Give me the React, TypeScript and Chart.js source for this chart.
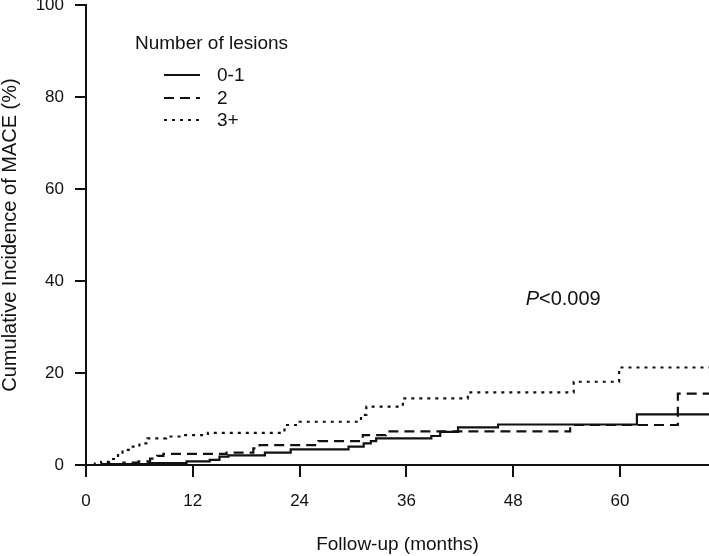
import React, { useEffect, useRef } from "react";
import { Chart, registerables } from "chart.js";

Chart.register(...registerables);

// ---------- data ----------
const groupLabels = ["0-1", "2", "3+"];
const legendTitle = "Number of lesions";
const xTickValues = [0, 12, 24, 36, 48, 60];
const yTickValues = [0, 20, 40, 60, 80, 100];
const xMax = 70;
const xTitle = "Follow-up (months)";
const yTitle = "Cumulative Incidence of MACE (%)";
const pItalic = "P";
const pRest = "<0.009";
const pAnchorX = 49.4; // months
const pAnchorY = 36; // %

// step times (months) and cumulative incidence (%) after each step
const times01 = [0, 2.5, 7, 11.3, 13.9, 15, 16, 20.1, 23, 29.5, 31.2, 32, 32.6, 38.8, 39.8, 41.8, 46.3, 61.9, 70];
const cum01 = [0, 0.2, 0.4, 0.8, 1.1, 1.8, 2.1, 2.7, 3.4, 4.0, 4.7, 5.2, 5.8, 6.3, 7.2, 8.2, 8.8, 11.0, 11.0];

const times2 = [0, 1.6, 4.2, 5.9, 7.2, 8, 8.7, 15.8, 18.8, 19.5, 26.1, 31.1, 33.7, 54.4, 66.5, 70];
const cum2 = [0, 0.2, 0.5, 0.8, 1.4, 2.0, 2.4, 2.7, 3.6, 4.3, 5.2, 6.5, 7.3, 8.7, 15.5, 15.5];

const times3 = [0, 1.0, 1.7, 2.6, 3.6, 4.1, 5.1, 6, 6.9, 9, 10.5, 13.7, 22.3, 24, 30.9, 31.5, 35.6, 42.9, 54.8, 59.9, 70];
const cum3 = [0, 0.3, 0.7, 1.3, 2.7, 3.3, 4.0, 4.7, 5.8, 6.2, 6.5, 7.0, 8.7, 9.4, 10.9, 12.7, 14.5, 15.8, 18.1, 21.2, 21.2];

const groupTimes = [times01, times2, times3];
const groupCum = [cum01, cum2, cum3];
const groupDash = [[], [10, 6], [3, 5]];

// ---------- styles ----------
const INK = "#111111";
const FAMILY = "'Liberation Sans', Arial, Helvetica, sans-serif";

const annotPlugin = {
  id: "annot",
  afterDraw(chart: any) {
    const { ctx, chartArea } = chart;
    const xs = chart.scales.x;
    const ys = chart.scales.y;
    ctx.save();
    ctx.fillStyle = INK;
    ctx.strokeStyle = INK;
    ctx.textBaseline = "middle";
    ctx.textAlign = "left";
    // legend
    const L = chartArea.left;
    const T = chartArea.top;
    ctx.font = `19px ${FAMILY}`;
    ctx.fillText(legendTitle, L + 49, T + 39);
    const rowY = [T + 70, T + 93, T + 115];
    chart.data.datasets.forEach((ds: any, i: number) => {
      ctx.lineWidth = 2.2;
      ctx.setLineDash(ds.borderDash || []);
      ctx.beginPath();
      ctx.moveTo(L + 78, rowY[i]);
      ctx.lineTo(L + 114, rowY[i]);
      ctx.stroke();
      ctx.setLineDash([]);
      ctx.fillText(ds.label, L + 131, rowY[i] + 1);
    });
    // p-value
    const px = xs.getPixelForValue(pAnchorX);
    const py = ys.getPixelForValue(pAnchorY);
    ctx.font = `italic 20px ${FAMILY}`;
    ctx.fillText(pItalic, px, py);
    const w = ctx.measureText(pItalic).width;
    ctx.font = `20px ${FAMILY}`;
    ctx.fillText(pRest, px + w, py);
    ctx.restore();
  },
};

export default function App() {
  const ref = useRef<HTMLCanvasElement>(null);
  useEffect(() => {
    document.body.style.margin = "0";
    const canvas = ref.current!;
    const datasets = groupLabels.map((label, i) => ({
      label,
      data: groupTimes[i].map((t, j) => ({ x: t, y: groupCum[i][j] })),
      borderColor: INK,
      borderWidth: 2.2,
      borderDash: groupDash[i],
      pointRadius: 0,
      stepped: "before" as const,
      fill: false,
      tension: 0,
    }));
    const tickFont = { family: FAMILY, size: 17 };
    const chart = new Chart(canvas, {
      type: "line",
      data: { datasets },
      options: {
        animation: false,
        responsive: false,
        devicePixelRatio: 1,
        layout: { padding: { top: 5, right: 0, left: 0, bottom: 0 } },
        plugins: { legend: { display: false }, tooltip: { enabled: false } },
        scales: {
          x: {
            type: "linear",
            min: 0,
            max: xMax,
            afterBuildTicks: (s: any) => {
              s.ticks = xTickValues.map((v) => ({ value: v }));
            },
            afterFit: (s: any) => {
              s.height = 91;
              s.paddingLeft = 0;
              s.paddingRight = 0;
            },
            ticks: {
              font: tickFont,
              color: INK,
              padding: 14,
              maxRotation: 0,
              autoSkip: false,
              callback: (v: any) => String(v),
            },
            grid: {
              display: true,
              drawOnChartArea: false,
              drawTicks: true,
              tickLength: 12,
              tickWidth: 2,
              tickColor: INK,
              lineWidth: 2,
              color: INK,
            },
            border: { display: true, width: 2, color: INK },
            title: {
              display: true,
              text: xTitle,
              font: { family: FAMILY, size: 19 },
              color: INK,
              padding: 0,
            },
          },
          y: {
            type: "linear",
            min: 0,
            max: 100,
            afterBuildTicks: (s: any) => {
              s.ticks = yTickValues.map((v) => ({ value: v }));
            },
            afterFit: (s: any) => {
              s.width = 86;
              s.paddingTop = 0;
              s.paddingBottom = 0;
            },
            ticks: {
              font: tickFont,
              color: INK,
              padding: 11,
              callback: (v: any) => String(v),
            },
            grid: {
              display: true,
              drawOnChartArea: false,
              drawTicks: true,
              tickLength: 11,
              tickWidth: 2,
              tickColor: INK,
              lineWidth: 2,
              color: INK,
            },
            border: { display: true, width: 2, color: INK },
            title: {
              display: true,
              text: yTitle,
              font: { family: FAMILY, size: 20, lineHeight: 1 },
              color: INK,
              padding: 0,
            },
          },
        },
      },
      plugins: [annotPlugin],
    });
    return () => chart.destroy();
  }, []);
  return (
    <div style={{ position: "absolute", left: 0, top: 0, width: 709, height: 556 }}>
      <canvas ref={ref} width={709} height={556} style={{ display: "block" }} />
    </div>
  );
}
